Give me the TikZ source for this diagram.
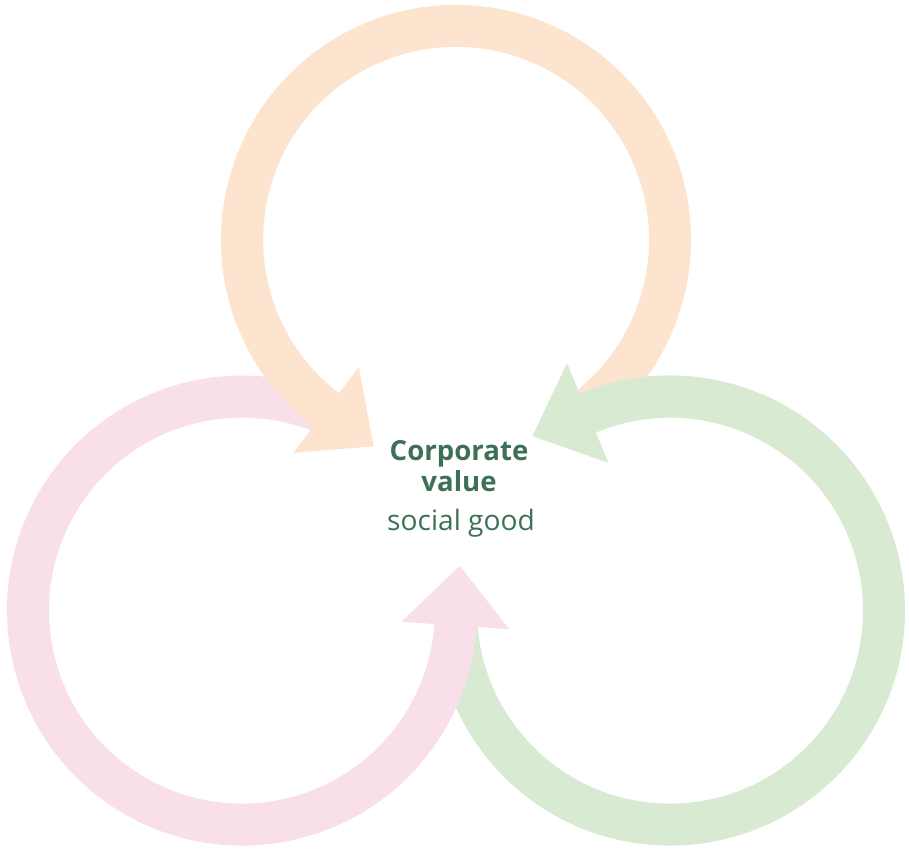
\documentclass[tikz,border=0pt]{standalone}
\usepackage{fontspec}
\setmainfont{Open Sans}
\usepackage{tikz}
\usetikzlibrary{calc}
\definecolor{peach}{HTML}{FCE4CF}
\definecolor{rose}{HTML}{F9DFE9}
\definecolor{mint}{HTML}{D9EAD2}
\definecolor{valuegreen}{HTML}{3D7155}
\tikzstyle{ring}=[line width=0.84cm, line cap=butt]
\tikzstyle{head}=[draw=none]
\tikzstyle{title}=[node font=\bfseries\fontsize{15.7}{17.6}\selectfont, text=valuegreen, align=center, inner sep=0pt]
\tikzstyle{subtitle}=[node font=\fontsize{16}{18}\selectfont, text=valuegreen, inner sep=0pt]

\begin{document}
\begin{tikzpicture}[x=0.02cm, y=0.02cm]
	\useasboundingbox (0,0) rectangle (909,852);
	% Centres of the three rings
	\coordinate (top) at (456,612.1);
	\coordinate (left) at (242,241.4);
	\coordinate (right) at (670,241.4);
	
	% First we draw the full rings
	\foreach \ctr/\col/\from/\to in {
		top/peach/-60/233.6,
		left/rose/60/357,
		right/mint/180/473.6}
	\draw[ring, \col] (\ctr) ++(\from:214) arc[start angle=\from, end angle=\to, radius=214];
	
	% Then the last part of each ring and its arrow head on top
	\foreach \ctr/\col/\to in {
		top/peach/232.6,
		left/rose/356,
		right/mint/472.6}{
		\pgfmathsetmacro\back{\to-60}
		\pgfmathsetmacro\over{\to+1}
		\pgfmathsetmacro\side{\to+90}
		\draw[ring, \col] (\ctr) ++(\back:214) arc[start angle=\back, end angle=\over, radius=214];
		\fill[head, \col] ($(\ctr)+(\to:160)$) -- ($(\ctr)+(\to:268)$) -- ($(\ctr)+(\to:214)+(\side:60)$) -- cycle;
	}
	
	% Labels in the middle
	\node[title, anchor=base] (corp) at (459,360.3) {Corporate\\value};
	\node[subtitle, anchor=base] (good) at (461,321) {social good};
\end{tikzpicture}
\end{document}
